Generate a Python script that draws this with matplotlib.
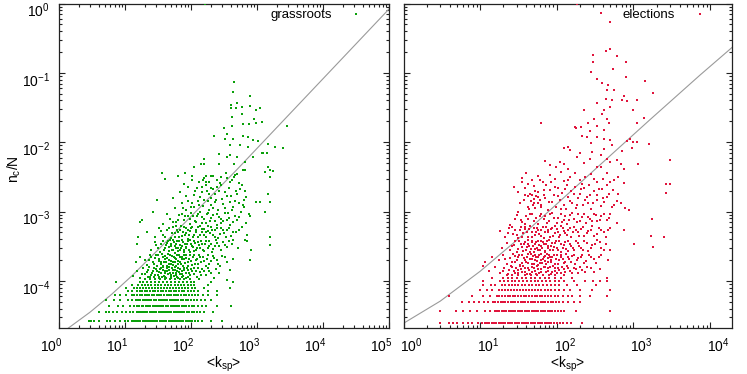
import numpy as np
import matplotlib
matplotlib.use("Agg")
import matplotlib.pyplot as plt
import matplotlib.transforms as mtransforms
from matplotlib.ticker import LogLocator, NullFormatter

plt.rcParams['font.family'] = ['Liberation Sans', 'DejaVu Sans']
plt.rcParams['mathtext.fontset'] = 'custom'
plt.rcParams['mathtext.rm'] = 'Liberation Sans'
plt.rcParams['mathtext.it'] = 'Liberation Sans'
plt.rcParams['mathtext.default'] = 'regular'
plt.rcParams['axes.unicode_minus'] = False

# ---------------- data (log10 values) ----------------
# grassroots: discrete rows n_c / N for small communities
gr_N = 113000
gr_row_n = [3, 4, 5, 6, 7, 8, 9, 10, 11, 12, 13]
gr_row_logk = [
    [0.45,0.49,0.53,0.60,0.72,0.77,0.85,0.93,1.00,1.05,1.10,1.13,1.17,1.20,1.23,1.27,1.30,1.33,1.36,1.40,1.43,1.46,1.49,1.53,1.56,1.59,1.62,1.66,1.69,1.72,1.75,1.79,1.82,1.85,1.88,1.92,1.95,1.98,2.02,2.06,2.10,2.16,2.30,2.47],
    [0.61,0.71,0.76,0.82,0.88,0.96,1.02,1.08,1.12,1.18,1.21,1.24,1.28,1.31,1.34,1.38,1.41,1.44,1.47,1.51,1.54,1.57,1.61,1.64,1.67,1.70,1.74,1.77,1.80,1.84,1.87,1.90,1.94,1.97,2.01,2.05,2.09,2.14,2.19,2.34],
    [0.76,0.89,0.97,1.07,1.13,1.18,1.21,1.25,1.28,1.32,1.35,1.38,1.42,1.45,1.48,1.52,1.55,1.58,1.62,1.65,1.69,1.72,1.75,1.79,1.82,1.86,1.89,1.93,1.97,2.01,2.05,2.10,2.16,2.22,2.39,2.61],
    [0.71,0.84,0.92,1.04,1.11,1.16,1.20,1.23,1.27,1.30,1.34,1.37,1.40,1.44,1.47,1.51,1.54,1.57,1.61,1.64,1.68,1.71,1.74,1.78,1.81,1.85,1.88,1.92,1.96,2.00,2.04,2.09,2.15,2.21,2.31],
    [0.85,0.92,1.02,1.10,1.14,1.18,1.22,1.26,1.30,1.33,1.37,1.41,1.44,1.48,1.52,1.55,1.59,1.63,1.66,1.70,1.74,1.77,1.81,1.85,1.89,1.93,1.97,2.01,2.06,2.11,2.18,2.26,2.39],
    [1.04,1.11,1.18,1.22,1.26,1.30,1.34,1.38,1.42,1.46,1.50,1.54,1.58,1.62,1.66,1.70,1.74,1.78,1.82,1.86,1.90,1.95,2.00,2.05,2.11,2.25,2.39],
    [1.02,1.13,1.18,1.23,1.28,1.32,1.37,1.41,1.46,1.50,1.55,1.59,1.64,1.68,1.73,1.77,1.82,1.86,1.91,1.96,2.01,2.06,2.20,2.59],
    [1.10,1.20,1.25,1.30,1.35,1.40,1.45,1.50,1.55,1.60,1.65,1.70,1.75,1.80,1.85,1.90,1.95,2.00,2.05,2.25],
    [0.86,1.22,1.28,1.34,1.40,1.46,1.52,1.58,1.64,1.70,1.76,1.82,1.88,1.94,2.00,2.05,2.30,2.64],
    [1.30,1.38,1.45,1.53,1.60,1.68,1.75,1.83,1.90,1.98,2.12],
    [1.35,1.44,1.52,1.61,1.70,1.79,1.87,1.96],
]
# grassroots: larger communities (log10 <k_sp>, log10 n_c/N)
gr_cloud = [
    (1.12,-3.93),(1.18,-3.86),(1.22,-3.95),(1.27,-3.82),(1.31,-3.90),(1.35,-3.84),(1.38,-3.94),(1.41,-3.88),(1.44,-3.81),(1.46,-3.92),
    (1.49,-3.85),(1.51,-3.96),(1.53,-3.83),(1.55,-3.89),(1.57,-3.80),(1.59,-3.93),(1.61,-3.86),(1.63,-3.82),(1.65,-3.90),(1.67,-3.84),
    (1.69,-3.95),(1.71,-3.81),(1.73,-3.88),(1.75,-3.84),(1.77,-3.92),(1.79,-3.86),(1.81,-3.82),(1.83,-3.90),(1.86,-3.85),(1.88,-3.93),
    (1.90,-3.81),(1.93,-3.88),(1.96,-3.84),(1.99,-3.91),(2.02,-3.86),(2.05,-3.82),(2.09,-3.94),(2.13,-3.87),(2.17,-3.83),(2.22,-3.91),
    (2.28,-3.85),(2.35,-3.95),(2.42,-3.89),(2.54,-3.99),(2.59,-3.84),
    (1.16,-3.72),(1.23,-3.66),(1.30,-3.70),(1.34,-3.77),(1.38,-3.63),(1.42,-3.73),(1.45,-3.67),(1.48,-3.79),(1.50,-3.62),(1.52,-3.71),
    (1.55,-3.76),(1.57,-3.65),(1.59,-3.73),(1.61,-3.68),(1.63,-3.78),(1.65,-3.61),(1.67,-3.70),(1.69,-3.75),(1.71,-3.64),(1.73,-3.72),
    (1.75,-3.67),(1.77,-3.78),(1.79,-3.62),(1.81,-3.71),(1.83,-3.66),(1.85,-3.76),(1.87,-3.69),(1.89,-3.63),(1.91,-3.74),(1.93,-3.67),
    (1.96,-3.79),(1.98,-3.62),(2.00,-3.71),(2.03,-3.65),(2.06,-3.76),(2.09,-3.68),(2.12,-3.62),(2.15,-3.73),(2.18,-3.66),(2.22,-3.78),
    (2.26,-3.63),(2.30,-3.71),(2.35,-3.67),(2.41,-3.75),(2.47,-3.64),(2.55,-3.72),(2.64,-3.68),(2.90,-3.70),
    (1.18,-3.46),(1.40,-3.55),(1.47,-3.48),(1.53,-3.58),(1.57,-3.43),(1.60,-3.52),(1.63,-3.45),(1.66,-3.57),(1.68,-3.41),(1.70,-3.50),
    (1.72,-3.55),(1.74,-3.44),(1.76,-3.59),(1.78,-3.47),(1.80,-3.53),(1.82,-3.42),(1.84,-3.56),(1.86,-3.49),(1.88,-3.44),(1.90,-3.58),
    (1.92,-3.51),(1.94,-3.46),(1.97,-3.55),(1.99,-3.41),(2.01,-3.50),(2.04,-3.57),(2.06,-3.45),(2.09,-3.53),(2.12,-3.48),(2.15,-3.42),
    (2.18,-3.56),(2.21,-3.47),(2.25,-3.52),(2.28,-3.43),(2.32,-3.58),(2.36,-3.49),(2.40,-3.45),(2.45,-3.55),(2.51,-3.48),(2.58,-3.42),
    (2.64,-3.41),(2.82,-3.41),(2.91,-3.55),(2.85,-3.43),(3.19,-3.48),
    (1.33,-3.30),(1.45,-3.36),(1.52,-3.24),(1.58,-3.33),(1.64,-3.27),(1.69,-3.38),(1.73,-3.22),(1.76,-3.31),(1.79,-3.26),(1.82,-3.37),
    (1.85,-3.21),(1.88,-3.29),(1.91,-3.34),(1.93,-3.24),(1.96,-3.39),(1.99,-3.28),(2.02,-3.22),(2.05,-3.33),(2.08,-3.26),(2.11,-3.37),
    (2.14,-3.21),(2.17,-3.30),(2.20,-3.25),(2.23,-3.36),(2.26,-3.28),(2.30,-3.22),(2.33,-3.34),(2.37,-3.27),(2.41,-3.38),(2.45,-3.24),
    (2.50,-3.31),(2.55,-3.26),(2.61,-3.35),(2.68,-3.29),(2.77,-3.22),(2.85,-3.33),(3.19,-3.37),(1.19,-3.36),
    (1.23,-3.15),(1.25,-3.12),(1.43,-3.00),(1.72,-2.80),(1.48,-2.83),(1.58,-3.18),(1.63,-3.03),(1.78,-3.15),(1.73,-3.15),(1.86,-2.88),
    (1.88,-2.95),(1.96,-2.64),(2.01,-2.55),(2.16,-2.64),(2.23,-2.62),(2.24,-2.71),(2.31,-2.80),(2.39,-2.64),(2.44,-2.59),(2.54,-2.52),
    (2.59,-2.57),(2.72,-2.59),(2.74,-2.67),(2.82,-2.71),(2.84,-2.79),(2.80,-2.83),(2.72,-2.88),(2.64,-2.93),(2.59,-2.86),(2.51,-2.95),
    (2.41,-2.98),(2.36,-2.86),(2.31,-2.91),(2.24,-3.03),(2.14,-3.00),(2.09,-3.07),(2.02,-2.88),(2.14,-2.79),(1.95,-3.07),(1.98,-3.18),
    (2.06,-3.14),(2.16,-3.17),(2.39,-3.19),(2.46,-3.16),(2.54,-3.12),(2.59,-3.19),(2.69,-3.12),(2.80,-2.93),(2.88,-3.03),(2.90,-3.07),
    (2.84,-3.17),(2.99,-2.86),(3.17,-2.74),(3.12,-3.00),(3.19,-2.86),(3.04,-2.86),
    (1.82,-3.05),(1.90,-3.12),(1.93,-2.97),(2.00,-3.02),(2.05,-2.93),(2.10,-2.85),(2.18,-2.92),(2.20,-3.10),(2.27,-2.97),(2.29,-3.13),
    (2.33,-3.05),(2.37,-2.75),(2.43,-3.08),(2.47,-2.82),(2.49,-3.13),(2.52,-2.72),(2.56,-3.02),(2.61,-2.78),(2.66,-3.07),(2.68,-2.70),
    (2.76,-3.00),(2.06,-2.70),(2.12,-2.58),(2.20,-2.52),(2.28,-2.57),(2.34,-2.68),(1.92,-2.78),(2.25,-2.85),(1.75,-2.95),(1.68,-3.10),
    (2.65,-1.13),(2.64,-1.28),(2.70,-1.43),(2.60,-1.46),(2.60,-1.51),(2.68,-1.51),(2.77,-1.49),(2.90,-1.34),(2.90,-1.48),(2.98,-1.53),
    (3.04,-1.51),(2.62,-1.63),(2.78,-1.60),(2.95,-1.66),(2.79,-1.74),(2.88,-1.74),(2.99,-1.72),(3.08,-1.71),(2.50,-1.79),(2.62,-1.77),
    (3.45,-1.76),(2.35,-1.91),(2.54,-1.88),(2.52,-1.96),(2.64,-1.95),(2.79,-1.91),(2.87,-1.93),(2.87,-2.07),(2.94,-1.97),(3.02,-1.98),
    (3.17,-2.03),(3.27,-2.07),(3.39,-2.09),(3.09,-2.15),(3.15,-2.15),(2.74,-2.04),(2.59,-2.04),(2.43,-2.17),(2.20,-2.24),(2.20,-2.31),
    (2.15,-2.32),(2.05,-2.35),(1.91,-2.44),(1.81,-2.49),(1.56,-2.44),(1.61,-2.53),(2.69,-2.21),(2.65,-2.32),(2.82,-2.28),(2.82,-2.40),
    (2.94,-2.21),(3.07,-2.16),(3.16,-2.35),(3.19,-2.40),(3.24,-2.41),(3.12,-2.43),(2.59,-2.19),(2.54,-2.21),(2.43,-2.32),(2.34,-2.49),
    (2.23,-2.48),(2.30,-2.48),(2.53,-2.45),(2.65,-2.50),(2.70,-2.46),(2.45,-2.50),(2.01,-2.48),(2.79,-2.40),(2.67,-2.47),(3.19,-2.50),
    (2.21,0.0),
    # denser core
    (1.26,-3.90),(1.33,-3.87),(1.37,-3.80),(1.40,-3.92),(1.43,-3.85),(1.47,-3.83),(1.50,-3.91),(1.52,-3.87),(1.54,-3.81),(1.56,-3.94),
    (1.58,-3.84),(1.60,-3.89),(1.62,-3.95),(1.64,-3.85),(1.66,-3.80),(1.68,-3.88),(1.70,-3.91),(1.72,-3.84),(1.74,-3.93),(1.76,-3.80),
    (1.78,-3.89),(1.80,-3.95),(1.82,-3.87),(1.84,-3.83),(1.87,-3.90),(1.89,-3.84),(1.92,-3.95),(1.94,-3.82),(1.97,-3.89),(2.00,-3.83),
    (2.04,-3.90),(2.07,-3.85),(2.11,-3.81),(2.15,-3.91),(2.19,-3.86),(2.25,-3.82),(2.31,-3.89),(2.38,-3.83),
    (1.36,-3.70),(1.40,-3.66),(1.44,-3.76),(1.47,-3.63),(1.51,-3.68),(1.54,-3.73),(1.56,-3.61),(1.58,-3.78),(1.60,-3.64),(1.62,-3.72),
    (1.64,-3.67),(1.66,-3.75),(1.68,-3.62),(1.70,-3.71),(1.72,-3.77),(1.74,-3.65),(1.76,-3.72),(1.78,-3.68),(1.80,-3.76),(1.82,-3.63),
    (1.84,-3.72),(1.86,-3.66),(1.88,-3.78),(1.90,-3.69),(1.92,-3.62),(1.95,-3.73),(1.97,-3.68),(2.01,-3.77),(2.04,-3.62),(2.07,-3.70),
    (2.11,-3.75),(2.14,-3.66),(2.19,-3.71),(2.24,-3.68),(2.28,-3.76),(2.33,-3.64),(2.39,-3.70),(2.44,-3.78),(2.51,-3.66),
    (1.45,-3.44),(1.50,-3.52),(1.55,-3.46),(1.59,-3.55),(1.62,-3.48),(1.65,-3.42),(1.67,-3.51),(1.69,-3.46),(1.71,-3.56),(1.73,-3.41),
    (1.75,-3.49),(1.77,-3.53),(1.79,-3.43),(1.81,-3.57),(1.83,-3.48),(1.85,-3.52),(1.87,-3.41),(1.89,-3.55),(1.91,-3.46),(1.93,-3.53),
    (1.96,-3.43),(1.98,-3.58),(2.00,-3.46),(2.03,-3.51),(2.05,-3.42),(2.08,-3.56),(2.11,-3.44),(2.14,-3.52),(2.17,-3.47),(2.20,-3.57),
    (2.23,-3.42),(2.27,-3.50),(2.30,-3.46),(2.34,-3.54),(2.38,-3.41),(2.43,-3.50),(2.48,-3.44),(2.55,-3.51),(2.62,-3.47),(2.71,-3.53),
    (1.55,-3.28),(1.61,-3.36),(1.66,-3.24),(1.71,-3.31),(1.75,-3.36),(1.78,-3.21),(1.81,-3.30),(1.84,-3.26),(1.87,-3.35),(1.90,-3.22),
    (1.92,-3.31),(1.95,-3.27),(1.97,-3.33),(2.00,-3.24),(2.03,-3.37),(2.07,-3.30),(2.10,-3.22),(2.13,-3.33),(2.16,-3.25),(2.19,-3.34),
    (2.22,-3.29),(2.25,-3.21),(2.29,-3.31),(2.32,-3.26),(2.36,-3.36),(2.40,-3.23),(2.44,-3.32),(2.48,-3.27),(2.53,-3.36),(2.58,-3.23),
    (2.64,-3.30),(2.72,-3.26),
    (1.80,-3.12),(1.86,-3.03),(1.91,-3.07),(1.98,-3.11),(2.03,-3.06),(2.07,-3.15),(2.11,-3.04),(2.17,-3.08),(2.22,-3.16),(2.25,-3.02),
    (2.31,-3.09),(2.36,-3.14),(2.40,-3.03),(2.45,-3.10),(2.51,-3.02),(2.58,-3.09),(2.63,-3.15),(2.72,-3.08),
    (1.95,-2.85),(2.00,-2.94),(2.04,-2.76),(2.09,-2.66),(2.12,-2.90),(2.16,-2.72),(2.20,-2.83),(2.23,-2.58),(2.27,-2.74),(2.30,-2.66),
    (2.33,-2.95),(2.38,-2.83),(2.42,-2.70),(2.45,-2.62),(2.49,-2.89),(2.55,-2.78),(2.57,-2.66),(2.62,-2.97),(2.66,-2.84),(2.70,-2.75),
    (2.77,-2.62),(2.79,-2.90),(1.84,-2.72),(1.90,-2.60),(2.18,-2.55),(2.40,-2.54),(2.62,-2.55),
]

# elections
el_N = 81300
el_row_n = [2, 3, 4, 5, 6, 7, 8, 9, 10]
el_row_logk = [
    [0.48,0.59,0.64,0.70,0.78,0.84,0.90,0.97,1.03,1.06,1.09,1.12,1.15,1.18,1.21,1.24,1.27,1.30,1.33,1.36,1.39,1.42,1.45,1.48,1.51,1.54,1.57,1.60,1.63,1.66,1.69,1.72,1.75,1.78,1.81,1.84,1.87,1.90,1.93,1.96,2.00,2.04,2.08,2.13,2.19,2.33],
    [0.47,0.69,0.78,0.87,0.96,1.06,1.13,1.19,1.22,1.25,1.28,1.31,1.34,1.37,1.40,1.43,1.46,1.49,1.52,1.55,1.58,1.61,1.64,1.67,1.70,1.73,1.76,1.79,1.82,1.85,1.88,1.91,1.94,1.97,2.01,2.05,2.09,2.25,2.69],
    [0.76,0.85,0.92,0.99,1.05,1.10,1.17,1.20,1.23,1.27,1.30,1.33,1.36,1.40,1.43,1.46,1.49,1.53,1.56,1.59,1.62,1.66,1.69,1.72,1.75,1.79,1.82,1.85,1.88,1.92,1.95,1.99,2.03,2.08,2.15,2.22,2.30],
    [0.60,0.89,1.04,1.13,1.22,1.25,1.29,1.32,1.36,1.39,1.43,1.46,1.50,1.53,1.57,1.60,1.64,1.67,1.71,1.74,1.78,1.81,1.85,1.89,1.93,1.97,2.02,2.08,2.14,2.20,2.30,2.43,2.65],
    [1.00,1.09,1.15,1.24,1.28,1.32,1.36,1.40,1.44,1.48,1.52,1.56,1.60,1.64,1.68,1.72,1.76,1.80,1.84,1.88,1.93,1.98,2.03,2.09,2.17,2.30,2.46,2.70],
    [1.04,1.14,1.19,1.28,1.32,1.37,1.41,1.46,1.50,1.55,1.59,1.64,1.68,1.73,1.77,1.82,1.87,1.92,1.97,2.03,2.13,2.26,2.51],
    [1.04,1.26,1.31,1.36,1.41,1.46,1.51,1.56,1.61,1.66,1.71,1.76,1.81,1.86,1.91,1.97,2.03,2.10,2.22,2.37,2.47,2.56,2.66],
    [1.15,1.30,1.36,1.42,1.48,1.54,1.60,1.66,1.72,1.78,1.84,1.90,1.97,2.05,2.20,2.66],
    [1.35,1.42,1.50,1.58,1.66,1.74,1.82,1.90,1.98,2.10],
]
el_cloud = [
    (1.04,-3.78),(1.12,-3.85),(1.20,-3.80),(1.26,-3.88),(1.31,-3.82),(1.36,-3.90),(1.40,-3.79),(1.44,-3.86),(1.47,-3.81),(1.50,-3.89),
    (1.53,-3.83),(1.56,-3.79),(1.59,-3.87),(1.62,-3.82),(1.65,-3.90),(1.68,-3.80),(1.71,-3.85),(1.74,-3.79),(1.77,-3.88),(1.80,-3.83),
    (1.83,-3.80),(1.86,-3.87),(1.89,-3.82),(1.92,-3.90),(1.95,-3.79),(1.98,-3.85),(2.01,-3.81),(2.05,-3.88),(2.09,-3.83),(2.13,-3.79),
    (2.17,-3.86),(2.22,-3.81),(2.27,-3.89),(2.33,-3.84),(2.40,-3.80),(2.48,-3.87),(2.56,-3.83),
    (1.06,-3.72),(1.15,-3.65),(1.24,-3.70),(1.30,-3.62),(1.35,-3.75),(1.39,-3.67),(1.43,-3.61),(1.46,-3.73),(1.49,-3.66),(1.52,-3.77),
    (1.55,-3.63),(1.58,-3.70),(1.61,-3.65),(1.63,-3.74),(1.66,-3.61),(1.68,-3.68),(1.70,-3.76),(1.72,-3.63),(1.74,-3.71),(1.76,-3.66),
    (1.78,-3.74),(1.80,-3.61),(1.82,-3.69),(1.84,-3.64),(1.86,-3.76),(1.88,-3.67),(1.90,-3.62),(1.92,-3.72),(1.94,-3.66),(1.97,-3.75),
    (2.00,-3.63),(2.03,-3.70),(2.06,-3.65),(2.09,-3.74),(2.12,-3.61),(2.16,-3.69),(2.20,-3.64),(2.24,-3.75),(2.28,-3.67),(2.33,-3.62),
    (2.38,-3.71),(2.44,-3.66),(2.51,-3.74),(2.58,-3.63),(2.67,-3.70),
    (1.28,-3.53),(1.35,-3.45),(1.39,-3.55),(1.44,-3.48),(1.48,-3.58),(1.51,-3.42),(1.54,-3.51),(1.57,-3.46),(1.60,-3.56),(1.62,-3.41),
    (1.64,-3.50),(1.66,-3.54),(1.68,-3.44),(1.70,-3.58),(1.72,-3.47),(1.74,-3.52),(1.76,-3.42),(1.78,-3.55),(1.80,-3.49),(1.82,-3.44),
    (1.84,-3.57),(1.86,-3.46),(1.88,-3.53),(1.90,-3.41),(1.92,-3.50),(1.95,-3.56),(1.97,-3.45),(2.00,-3.52),(2.03,-3.43),(2.06,-3.58),
    (2.09,-3.48),(2.12,-3.54),(2.15,-3.42),(2.19,-3.50),(2.23,-3.56),(2.27,-3.45),(2.31,-3.52),(2.36,-3.43),(2.41,-3.57),(2.46,-3.48),
    (2.52,-3.41),(2.58,-3.53),(2.64,-3.46),(2.70,-3.55),(3.01,-3.46),(3.25,-3.51),
    (1.26,-3.28),(1.32,-3.36),(1.38,-3.24),(1.43,-3.32),(1.46,-3.27),(1.50,-3.38),(1.53,-3.22),(1.56,-3.31),(1.59,-3.25),(1.62,-3.36),
    (1.65,-3.21),(1.68,-3.29),(1.71,-3.34),(1.74,-3.23),(1.77,-3.32),(1.80,-3.27),(1.83,-3.38),(1.86,-3.22),(1.89,-3.30),(1.92,-3.25),
    (1.95,-3.35),(1.98,-3.21),(2.01,-3.29),(2.04,-3.34),(2.08,-3.24),(2.11,-3.31),(2.15,-3.26),(2.19,-3.37),(2.23,-3.22),(2.27,-3.30),
    (2.31,-3.25),(2.36,-3.35),(2.41,-3.28),(2.46,-3.21),(2.52,-3.32),(2.58,-3.26),(2.64,-3.36),(2.70,-3.24),(2.88,-3.27),(3.23,-3.35),
    (3.40,-3.37),
    (1.39,-3.19),(1.50,-3.00),(1.65,-3.03),(1.78,-3.07),(1.91,-3.03),(2.17,-3.05),(2.28,-3.03),(2.48,-3.03),(2.65,-3.12),(2.78,-3.17),
    (3.24,-3.10),(1.45,-3.10),(1.55,-3.15),(1.60,-3.06),(1.70,-3.13),(1.75,-3.18),(1.83,-3.11),(1.87,-3.16),(1.96,-3.09),(2.00,-3.17),
    (2.05,-3.04),(2.09,-3.12),(2.13,-3.18),(2.22,-3.10),(2.26,-3.15),(2.33,-3.08),(2.38,-3.16),(2.43,-3.11),(2.53,-3.14),(2.58,-3.06),
    (2.70,-3.04),(2.89,-2.95),
    (1.57,-2.83),(1.70,-2.88),(1.76,-2.79),(1.85,-2.81),(2.04,-2.83),(2.09,-2.91),(2.15,-2.79),(2.28,-2.81),(2.39,-2.79),(2.41,-2.88),
    (2.52,-2.83),(2.65,-2.79),(2.84,-2.88),(2.94,-2.98),(1.62,-2.93),(1.66,-2.84),(1.72,-2.95),(1.80,-2.90),(1.88,-2.97),(1.94,-2.86),
    (1.99,-2.93),(2.12,-2.96),(2.20,-2.88),(2.25,-2.95),(2.34,-2.90),(2.45,-2.96),(2.57,-2.92),(2.62,-2.86),(2.72,-2.93),(2.78,-2.85),
    (1.67,-2.76),(1.70,-2.82),(1.73,-2.78),(1.75,-2.87),(1.78,-2.83),(1.69,-2.90),
    (1.44,-2.64),(1.65,-2.74),(1.83,-2.69),(1.91,-2.69),(2.24,-2.64),(2.48,-2.71),(2.59,-2.67),(2.73,-2.69),(3.43,-2.73),(3.43,-2.60),
    (3.48,-2.60),(1.50,-2.72),(1.58,-2.66),(1.62,-2.78),(1.70,-2.63),(1.76,-2.72),(1.86,-2.62),(1.96,-2.76),(2.01,-2.66),(2.07,-2.73),
    (2.13,-2.62),(2.18,-2.70),(2.30,-2.74),(2.36,-2.66),(2.42,-2.62),(2.53,-2.76),(2.65,-2.62),(2.80,-2.75),
    (1.54,-2.57),(1.54,-2.52),(1.91,-2.47),(2.17,-2.50),(2.30,-2.55),(2.37,-2.50),(2.52,-2.57),(2.65,-2.45),(2.74,-2.55),(2.80,-2.50),
    (2.87,-2.59),(1.60,-2.45),(1.68,-2.55),(1.75,-2.48),(1.82,-2.58),(1.98,-2.53),(2.05,-2.43),(2.10,-2.56),(2.24,-2.44),(2.44,-2.46),
    (2.60,-2.53),
    (1.91,-2.33),(1.99,-2.36),(2.04,-2.28),(2.15,-2.38),(2.26,-2.21),(2.52,-2.36),(2.65,-2.24),(2.79,-2.25),(2.84,-2.31),(2.87,-2.38),
    (3.06,-2.32),(3.48,-2.26),(1.85,-2.27),(2.10,-2.31),(2.35,-2.30),(2.43,-2.24),(2.58,-2.36),(2.70,-2.29),
    (2.14,-2.07),(2.09,-2.09),(2.17,-2.11),(2.44,-2.01),(2.46,-2.14),(2.57,-2.19),(2.72,-2.04),(2.98,-2.09),(3.20,-2.03),(2.30,-2.16),
    (2.62,-2.10),(2.85,-2.13),(3.05,-2.00),
    (2.25,-1.80),(2.33,-1.91),(2.39,-1.92),(2.52,-1.92),(2.62,-1.96),(2.69,-1.97),(2.91,-1.98),(2.96,-1.96),(2.61,-1.83),(2.43,-1.84),
    (2.31,-1.78),(2.24,-1.78),(2.52,-1.76),(2.68,-1.72),(2.41,-1.72),(2.65,-1.67),(2.48,-1.66),(2.59,-1.60),(3.14,-1.65),(3.04,-1.72),
    (1.79,-1.72),(3.00,-2.00),
    (2.36,-1.54),(2.62,-1.54),(3.00,-1.53),(2.53,-1.44),(2.69,-1.49),(2.64,-1.38),(2.72,-1.39),(2.85,-1.39),(2.91,-1.40),(3.04,-1.39),
    (2.88,-1.33),(3.25,-1.29),(2.65,-1.25),(2.75,-1.24),(2.67,-1.17),(2.59,-1.14),(2.53,-1.09),(2.90,-1.06),(3.15,-1.11),
    (2.45,-0.99),(2.73,-0.94),(2.47,-0.85),(2.47,-0.74),(2.90,-0.84),(2.78,-0.75),(2.64,-0.69),(2.70,-0.66),(2.69,-0.26),(2.57,-0.13),
    (2.26,0.0),
    # denser core
    (1.30,-3.86),(1.38,-3.84),(1.42,-3.80),(1.46,-3.89),(1.49,-3.84),(1.52,-3.79),(1.55,-3.87),(1.58,-3.82),(1.61,-3.90),(1.64,-3.84),
    (1.67,-3.87),(1.70,-3.81),(1.73,-3.90),(1.76,-3.83),(1.79,-3.87),(1.82,-3.91),(1.85,-3.80),(1.88,-3.85),(1.91,-3.80),(1.94,-3.87),
    (1.97,-3.82),(2.00,-3.89),(2.03,-3.84),(2.07,-3.80),(2.11,-3.87),(2.15,-3.82),(2.20,-3.89),(2.25,-3.83),(2.30,-3.80),(2.37,-3.87),
    (2.44,-3.82),
    (1.33,-3.68),(1.41,-3.72),(1.45,-3.64),(1.48,-3.70),(1.51,-3.62),(1.54,-3.74),(1.57,-3.67),(1.60,-3.72),(1.62,-3.61),(1.65,-3.69),
    (1.67,-3.75),(1.69,-3.64),(1.71,-3.70),(1.73,-3.66),(1.75,-3.77),(1.77,-3.62),(1.79,-3.70),(1.81,-3.74),(1.83,-3.65),(1.85,-3.71),
    (1.87,-3.61),(1.89,-3.73),(1.91,-3.66),(1.93,-3.70),(1.96,-3.62),(1.99,-3.68),(2.02,-3.75),(2.05,-3.62),(2.08,-3.68),(2.11,-3.72),
    (2.14,-3.65),(2.18,-3.73),(2.22,-3.62),(2.26,-3.70),(2.31,-3.66),(2.36,-3.74),(2.42,-3.62),(2.48,-3.69),(2.55,-3.65),
    (1.41,-3.50),(1.46,-3.43),(1.50,-3.54),(1.53,-3.46),(1.56,-3.57),(1.59,-3.44),(1.61,-3.51),(1.63,-3.47),(1.65,-3.58),(1.67,-3.42),
    (1.69,-3.50),(1.71,-3.54),(1.73,-3.44),(1.75,-3.56),(1.77,-3.48),(1.79,-3.43),(1.81,-3.53),(1.83,-3.47),(1.85,-3.58),(1.87,-3.42),
    (1.89,-3.49),(1.91,-3.55),(1.94,-3.45),(1.96,-3.51),(1.99,-3.42),(2.02,-3.56),(2.05,-3.47),(2.08,-3.52),(2.11,-3.44),(2.14,-3.57),
    (2.17,-3.46),(2.21,-3.53),(2.25,-3.43),(2.29,-3.50),(2.34,-3.56),(2.39,-3.45),(2.44,-3.52),(2.50,-3.47),(2.56,-3.44),(2.62,-3.55),
    (1.36,-3.31),(1.41,-3.22),(1.48,-3.33),(1.52,-3.27),(1.55,-3.36),(1.58,-3.22),(1.61,-3.30),(1.64,-3.25),(1.67,-3.36),(1.70,-3.23),
    (1.73,-3.30),(1.76,-3.26),(1.79,-3.35),(1.82,-3.22),(1.85,-3.30),(1.88,-3.26),(1.91,-3.36),(1.94,-3.23),(1.97,-3.31),(2.00,-3.25),
    (2.03,-3.36),(2.06,-3.21),(2.10,-3.28),(2.13,-3.34),(2.17,-3.23),(2.21,-3.30),(2.25,-3.26),(2.29,-3.35),(2.34,-3.22),(2.39,-3.31),
    (2.44,-3.26),(2.49,-3.35),(2.55,-3.23),(2.61,-3.30),(2.67,-3.27),
    (1.48,-3.05),(1.53,-3.12),(1.58,-3.18),(1.63,-3.10),(1.68,-3.04),(1.73,-3.09),(1.80,-3.03),(1.85,-3.07),(1.90,-3.13),(1.94,-3.02),
    (2.02,-3.09),(2.07,-3.15),(2.11,-3.06),(2.16,-3.12),(2.20,-3.02),(2.30,-3.13),(2.35,-3.04),(2.41,-3.08),(2.46,-3.14),(2.51,-3.05),
    (2.56,-3.12),(2.62,-3.03),(2.68,-3.09),
    (1.52,-2.88),(1.59,-2.76),(1.64,-2.96),(1.72,-2.70),(1.79,-2.93),(1.83,-2.76),(1.90,-2.86),(1.97,-2.64),(2.02,-2.78),(2.06,-2.96),
    (2.11,-2.68),(2.17,-2.85),(2.22,-2.74),(2.26,-2.91),(2.31,-2.68),(2.37,-2.83),(2.43,-2.76),(2.47,-2.88),(2.55,-2.68),(2.60,-2.80),
    (2.68,-2.74),(2.75,-2.90),(1.63,-2.60),(1.78,-2.55),(1.93,-2.58),(2.15,-2.55),(2.33,-2.60),(2.49,-2.53),(2.70,-2.57),
]

# reference curves (log10 <k_sp>, log10 n_c/N)
gr_curve_x = [0.14, 0.47, 0.80, 1.10, 1.48, 1.73, 2.00, 2.69, 3.955, 5.0]
gr_curve_y = [-4.68, -4.45, -4.19, -3.93, -3.57, -3.33, -3.07, -2.40, -1.13, -0.08]
el_curve_x = [0.0, 0.48, 1.00, 1.48, 2.00, 2.63, 3.20, 3.87, 4.30]
el_curve_y = [-4.61, -4.29, -3.86, -3.41, -2.89, -2.26, -1.69, -1.03, -0.62]

labels = ["grassroots", "elections"]
colors = ["#0aa00a", "#e0143c"]
curve_color = "#9a9a9a"

# ---------------- figure ----------------
W, H = 747, 374
fig = plt.figure(figsize=(W / 100, H / 100), dpi=100)
ax1 = fig.add_axes([59 / W, 1 - 328 / H, 330 / W, 324.5 / H])
ax2 = fig.add_axes([403.5 / W, 1 - 328 / H, 328 / W, 324.5 / H])

panels = [
    (ax1, gr_N, gr_row_n, gr_row_logk, gr_cloud, gr_curve_x, gr_curve_y, (1, 1e5), -8),
    (ax2, el_N, el_row_n, el_row_logk, el_cloud, el_curve_x, el_curve_y, (1, 1.9e4), 8),
]

for i, (ax, N, rn, rk, cloud, cx, cy, xl, xshift) in enumerate(panels):
    xs, ys = [], []
    for n, ks in zip(rn, rk):
        for k in ks:
            xs.append(10 ** k)
            ys.append(n / N)
    for k, v in cloud:
        xs.append(10 ** k)
        ys.append(10 ** v)
    ax.set_xscale('log')
    ax.set_yscale('log')
    ax.plot(10 ** np.array(cx), 10 ** np.array(cy), color=curve_color, lw=0.8, zorder=2)
    ax.plot(xs, ys, ls='none', marker='s', ms=1.7, mew=0, color=colors[i], zorder=3)
    ax.set_xlim(*xl)
    ax.set_ylim(2.1e-5, 1.0)
    ax.xaxis.set_major_locator(LogLocator(base=10, numticks=20))
    ax.xaxis.set_minor_locator(LogLocator(base=10, subs=np.arange(2, 10), numticks=100))
    ax.yaxis.set_major_locator(LogLocator(base=10, numticks=20))
    ax.yaxis.set_minor_locator(LogLocator(base=10, subs=np.arange(2, 10), numticks=100))
    ax.xaxis.set_minor_formatter(NullFormatter())
    ax.yaxis.set_minor_formatter(NullFormatter())
    ax.tick_params(which='both', direction='in', top=True, right=True, width=0.8, color='#222222')
    ax.tick_params(which='major', length=4.5, labelsize=10)
    ax.tick_params(axis='x', which='major', pad=6.0)
    ax.tick_params(axis='y', which='major', pad=6.5)
    ax.tick_params(which='minor', length=2.3)
    for s in ax.spines.values():
        s.set_linewidth(0.9)
        s.set_color('#222222')
    # gnuplot-like offsets of the tick labels
    off_x = mtransforms.ScaledTranslation(xshift / 100, 0, fig.dpi_scale_trans)
    for t in ax.xaxis.get_major_ticks():
        t.label1.set_transform(t.label1.get_transform() + off_x)
    off_y = mtransforms.ScaledTranslation(0, -6 / 100, fig.dpi_scale_trans)
    for t in ax.yaxis.get_major_ticks():
        t.label1.set_transform(t.label1.get_transform() + off_y)
    # key
    ax.text(0.828, 0.965, labels[i], transform=ax.transAxes,
            ha='right', va='center', fontsize=9.5)
    ax.plot([0.90 if i == 0 else 0.904], [0.968], transform=ax.transAxes, ls='none',
            marker='s', ms=1.7, mew=0, color=colors[i], clip_on=False)
    ax.text(0.5, -0.112, r'<k$_{sp}$>', transform=ax.transAxes, ha='center', va='center', fontsize=10)

ax2.tick_params(axis='y', which='both', labelleft=False)
ax1.text(-0.135, 0.49, r'n$_c$/N', transform=ax1.transAxes, rotation=90,
         ha='center', va='center', fontsize=10)

fig.savefig('out.png', dpi=100)
